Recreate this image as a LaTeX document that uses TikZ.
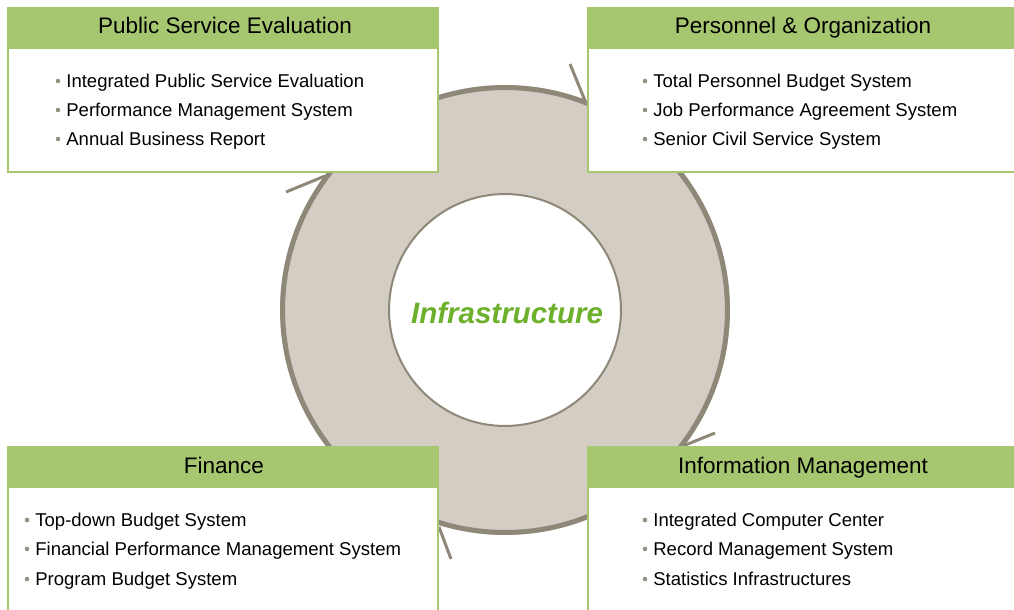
\documentclass[tikz,border=0pt]{standalone}
\usepackage{fontspec}
\setmainfont{Liberation Sans}
\definecolor{hdrgreen}{RGB}{166,199,111}
\definecolor{ringfill}{RGB}{212,205,196}
\definecolor{ringedge}{RGB}{142,136,120}
\definecolor{infragreen}{RGB}{108,176,44}
\definecolor{bulletgray}{RGB}{150,144,130}
\tikzset{
	boxframe/.style={draw=hdrgreen, line width=1.1pt, fill=white},
	header/.style={fill=hdrgreen},
	title/.style={anchor=base, inner sep=0pt, font=\fontsize{12.8}{15}\selectfont},
	item/.style={anchor=base west, inner sep=0pt, font=\fontsize{10.55}{13}\selectfont},
	dot/.style={fill=bulletgray},
	tick/.style={draw=ringedge, line width=1.7pt},
}
\begin{document}
\begin{tikzpicture}[x=0.02cm, y=-0.02cm]
				\useasboundingbox (0,0) rectangle (1014,609);
				\coordinate (O) at (505,310);
				\coordinate (T1) at (570,64);
				\coordinate (T2) at (586,103);
				\coordinate (L1) at (286,192);
				\coordinate (L2) at (325,176);
				\coordinate (R1) at (715,433);
				\coordinate (R2) at (683,446);
				\coordinate (B1) at (439,527);
				\coordinate (B2) at (451,559);
				\fill [ringfill] (O) circle(4.5cm);
				\draw [ringedge, line width=0.1cm] (O) circle(4.45cm);
				\draw [ringedge, fill=white, line width=0.04cm] (O) circle(2.32cm);
				\node [anchor=base, inner sep=0pt, text=infragreen, font=\fontsize{16.8}{20}\selectfont\bfseries\itshape] (infra) at (507,323) {Infrastructure};
				\draw [tick] (T1) -- (T2);
				\draw [tick] (L1) -- (L2);
				\draw [tick] (R1) -- (R2);
				\draw [tick] (B1) -- (B2);
				\draw [boxframe] (8,8) rectangle (438,172);
				\fill [header] (7,7) rectangle (439,49);
				\node [title] (pse) at (225,33) {Public Service Evaluation};
				\fill [dot] (58,81) circle(1.3pt);
				\node [item] (pse1) at (66,87) {Integrated Public Service Evaluation};
				\fill [dot] (58,110) circle(1.3pt);
				\node [item] (pse2) at (66,116) {Performance Management System};
				\fill [dot] (58,139) circle(1.3pt);
				\node [item] (pse3) at (66,145) {Annual Business Report};
				\draw [boxframe] (588,8) rectangle (1020,172);
				\fill [header] (587,7) rectangle (1021,49);
				\node [title] (pno) at (803,33) {Personnel \& Organization};
				\fill [dot] (645,81) circle(1.3pt);
				\node [item] (pno1) at (653,87) {Total Personnel Budget System};
				\fill [dot] (645,110) circle(1.3pt);
				\node [item] (pno2) at (653,116) {Job Performance Agreement System};
				\fill [dot] (645,139) circle(1.3pt);
				\node [item] (pno3) at (653,145) {Senior Civil Service System};
				\draw [boxframe] (8,447) rectangle (438,620);
				\fill [header] (7,446) rectangle (439,488);
				\node [title] (fin) at (224,473) {Finance};
				\fill [dot] (27,520) circle(1.3pt);
				\node [item] (fin1) at (35,526) {Top-down Budget System};
				\fill [dot] (27,549) circle(1.3pt);
				\node [item] (fin2) at (35,555) {Financial Performance Management System};
				\fill [dot] (27,579) circle(1.3pt);
				\node [item] (fin3) at (35,585) {Program Budget System};
				\draw [boxframe] (588,447) rectangle (1020,620);
				\fill [header] (587,446) rectangle (1021,488);
				\node [title] (inf) at (803,473) {Information Management};
				\fill [dot] (645,520) circle(1.3pt);
				\node [item] (inf1) at (653,526) {Integrated Computer Center};
				\fill [dot] (645,549) circle(1.3pt);
				\node [item] (inf2) at (653,555) {Record Management System};
				\fill [dot] (645,579) circle(1.3pt);
				\node [item] (inf3) at (653,585) {Statistics Infrastructures};
			\end{tikzpicture}
\end{document}
